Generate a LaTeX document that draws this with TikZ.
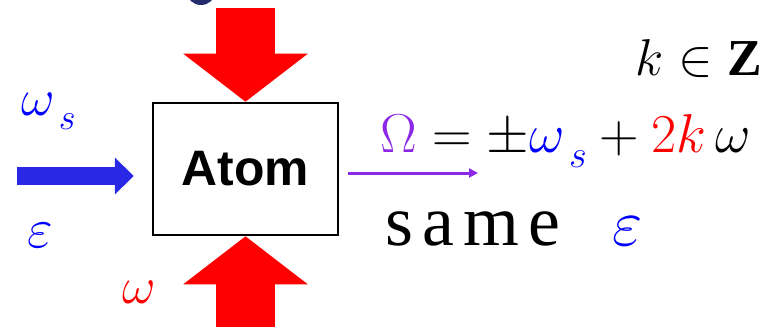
\RequirePackage{fix-cm}
\documentclass[tikz,border=0pt]{standalone}
\usepackage{fontspec}
\setmainfont{Liberation Serif}
\newfontfamily\atomfont{Liberation Sans}
\newfontfamily\widefont{Liberation Serif}[LetterSpace=13]
\usetikzlibrary{positioning,arrows.meta}
\definecolor{pumpred}{RGB}{255,0,0}
\definecolor{probeblue}{RGB}{40,40,230}
\definecolor{symblue}{RGB}{0,0,255}
\definecolor{outviolet}{RGB}{140,40,230}
\definecolor{knob}{RGB}{35,45,110}

\begin{document}
\begin{tikzpicture}[
    x=1bp, y=1bp,
    atombox/.style={draw, line width=2.5bp, minimum width=185bp, minimum height=132bp, inner sep=0pt,
      font=\atomfont\bfseries\fontsize{50}{56}\selectfont},
    pump/.style={pumpred, line width=59bp, -{Triangle[length=48bp, width=122bp]}},
    probe/.style={probeblue, line width=18bp, -{Triangle[length=19bp, width=36bp]}},
    signal/.style={outviolet, line width=3bp, -{Triangle[length=9bp, width=9bp]}},
    sym/.style={inner sep=0pt, anchor=base west, font=\fontsize{52}{60}\selectfont},
  ]
  \useasboundingbox (0,0) rectangle (777,326);
  \clip (0,0) rectangle (777,326);
  \fill[knob] (201,334) ellipse [x radius=14, y radius=13];

  \node[atombox] (atom) at (245.5,157) {Atom};

  % free ends of the arrows
  \coordinate (pumptop) at (atom.north |- 0,318);
  \coordinate (pumpbot) at (atom.south |- 0,-10);
  \coordinate (probein) at (17,150);
  \coordinate (sigend)  at (478,153);

  \draw[pump] (pumptop) -- (atom.north);
  \draw[pump] (pumpbot) -- (atom.south);
  \draw[probe, shorten >=18bp] (probein) -- (probein -| atom.west);
  \draw[signal, shorten <=9bp] (atom.east |- sigend) -- (sigend);

  % labels
  \node[sym, text=symblue] (ws)   at (21,211) {$\omega_{\lower7bp\hbox{$\scriptstyle\,s$}}$};
  \node[sym, text=symblue, font=\fontsize{56}{60}\selectfont] (eps) at (27,79) {$\varepsilon$};
  \node[sym, text=pumpred] (w)    at (122,23) {$\omega$};
  \node[sym] (kz) [anchor=base east] at (762,251) {$k\in\mathbf{Z}$};
  \node[sym, font=\fontsize{55}{60}\selectfont] (eq) at (380,174)
    {$\textcolor{outviolet}{\Omega}=\pm\textcolor{symblue}{\omega_{\lower7bp\hbox{$\scriptstyle\,s$}}}+\textcolor{pumpred}{2k}\,\omega$};
  \node[sym, font=\widefont\fontsize{72}{80}\selectfont] (same) at (385,81)
    {same\hskip 52bp{\fontsize{66}{66}\selectfont$\textcolor{symblue}{\varepsilon}$}};
\end{tikzpicture}
\end{document}
